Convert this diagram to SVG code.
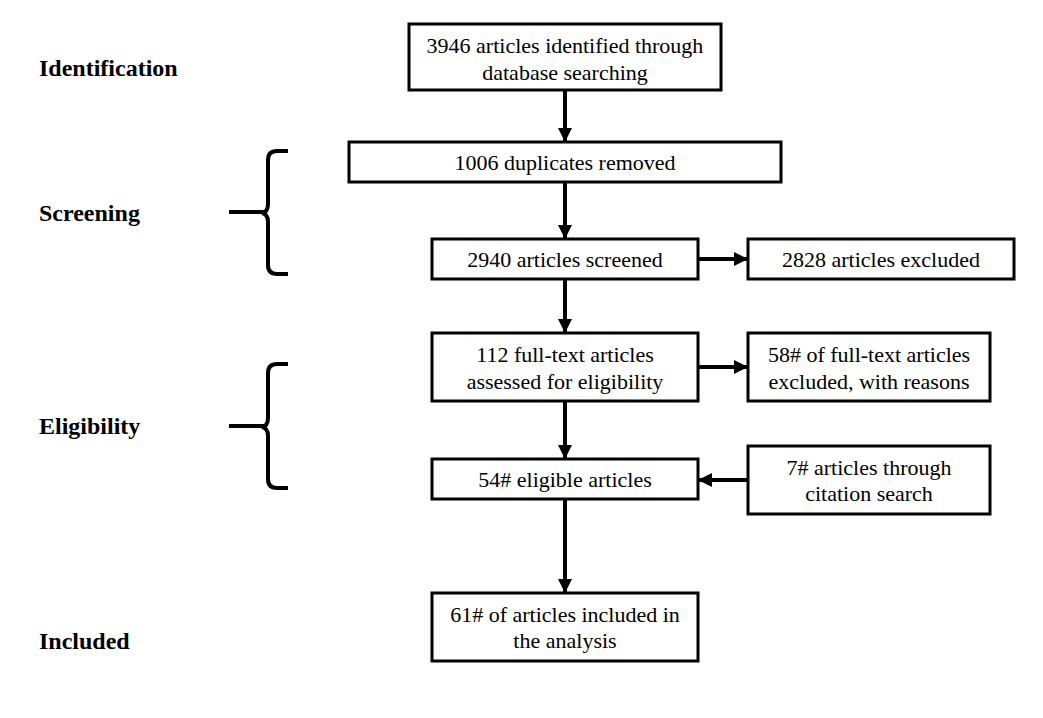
<svg xmlns="http://www.w3.org/2000/svg" width="1043" height="718" viewBox="0 0 1043 718">
<style>
.box{fill:#fff;stroke:#000;stroke-width:3}
.t{font-family:"Liberation Serif","Times New Roman",serif;font-size:22px;fill:#000;text-anchor:middle}
.lbl{font-family:"Liberation Serif","Times New Roman",serif;font-size:24px;font-weight:bold;fill:#000}
.c{stroke:#000;stroke-width:4;fill:none}
.br{stroke:#000;stroke-width:4;fill:none;stroke-linecap:butt}
</style>
<defs>
<marker id="ah" markerUnits="userSpaceOnUse" markerWidth="16" markerHeight="16" refX="14" refY="8" orient="auto">
<path d="M0,1 L14,8 L0,15 Z" fill="#000"/>
</marker>
</defs>
<rect width="1043" height="718" fill="#fff"/>
<g id="stage-labels">
<text class="lbl" x="39" y="76">Identification</text>
<text class="lbl" x="39" y="221">Screening</text>
<text class="lbl" x="39" y="434">Eligibility</text>
<text class="lbl" x="39" y="649">Included</text>
</g>
<g id="braces">
<path class="br" d="M288,151 H277 Q268,151 268,160 V204 Q268,212 262,213 Q268,214 268,222 V265 Q268,274 277,274 H288"/>
<path class="br" d="M229,212 H264"/>
<path class="br" d="M288,364 H277 Q268,364 268,373 V418 Q268,426 262,427 Q268,428 268,436 V479 Q268,488 277,488 H288"/>
<path class="br" d="M229,426 H264"/>
</g>
<g id="connectors">
<path class="c" d="M565,90 V142" marker-end="url(#ah)"/>
<path class="c" d="M565,182 V239" marker-end="url(#ah)"/>
<path class="c" d="M565,279 V333" marker-end="url(#ah)"/>
<path class="c" d="M565,401 V459" marker-end="url(#ah)"/>
<path class="c" d="M565,499 V593" marker-end="url(#ah)"/>
<path class="c" d="M698,259 H748" marker-end="url(#ah)"/>
<path class="c" d="M698,367 H748" marker-end="url(#ah)"/>
<path class="c" d="M748,480 H698" marker-end="url(#ah)"/>
</g>
<g id="n1"><rect class="box" x="409" y="24" width="312" height="66"/>
<text class="t" x="565" y="53">3946 articles identified through</text>
<text class="t" x="565" y="80">database searching</text></g>
<g id="n2"><rect class="box" x="349" y="142" width="432" height="40"/>
<text class="t" x="565" y="170">1006 duplicates removed</text></g>
<g id="n3"><rect class="box" x="432" y="239" width="266" height="40"/>
<text class="t" x="565" y="267">2940 articles screened</text></g>
<g id="n4"><rect class="box" x="748" y="239" width="266" height="40"/>
<text class="t" x="881" y="267">2828 articles excluded</text></g>
<g id="n5"><rect class="box" x="432" y="333" width="266" height="68"/>
<text class="t" x="565" y="362">112 full-text articles</text>
<text class="t" x="565" y="389">assessed for eligibility</text></g>
<g id="n6"><rect class="box" x="748" y="333" width="242" height="68"/>
<text class="t" x="869" y="362">58# of full-text articles</text>
<text class="t" x="869" y="389">excluded, with reasons</text></g>
<g id="n7"><rect class="box" x="432" y="459" width="266" height="40"/>
<text class="t" x="565" y="487">54# eligible articles</text></g>
<g id="n8"><rect class="box" x="748" y="446" width="242" height="68"/>
<text class="t" x="869" y="475">7# articles through</text>
<text class="t" x="869" y="501">citation search</text></g>
<g id="n9"><rect class="box" x="432" y="593" width="266" height="68"/>
<text class="t" x="565" y="622">61# of articles included in</text>
<text class="t" x="565" y="648">the analysis</text></g>
</svg>
